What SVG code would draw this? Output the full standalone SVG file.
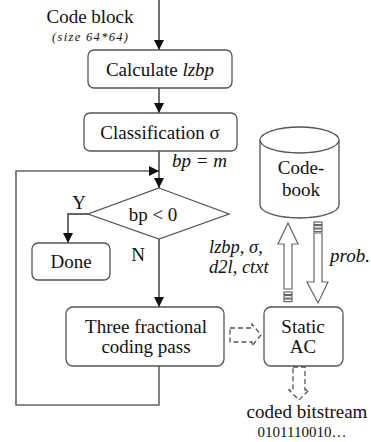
<svg xmlns="http://www.w3.org/2000/svg" width="371" height="442" viewBox="0 0 371 442">
  <style>
    .box { fill: #fff; stroke: #555; stroke-width: 1.3; }
    .line { fill: none; stroke: #333; stroke-width: 1.4; }
    .loop { fill: none; stroke: #666; stroke-width: 1.6; }
    .block { fill: #fff; stroke: #666; stroke-width: 1.2; }
    .dash { fill: none; stroke: #555; stroke-width: 1.3; stroke-dasharray: 5 3; }
    text { font-family: 'Liberation Serif', 'Times New Roman', serif; font-size: 19px; fill: #111; }
    .c { text-anchor: middle; }
    .it { font-style: italic; }
  </style>
  <defs>
    <marker id="ah" viewBox="0 0 10 10" refX="10" refY="5" markerWidth="10" markerHeight="10" markerUnits="userSpaceOnUse" orient="auto">
      <path d="M0,0 L10,5 L0,10 Z" fill="#111"/>
    </marker>
  </defs>

  <!-- connectors -->
  <g id="connectors">
    <path class="line" d="M159,0 V50" marker-end="url(#ah)"/>
    <path class="line" d="M159,88 V113" marker-end="url(#ah)"/>
    <path class="line" d="M159,151 V188" marker-end="url(#ah)"/>
    <path class="line" d="M88,214 H68 V243" marker-end="url(#ah)"/>
    <path class="line" d="M159,239 V307" marker-end="url(#ah)"/>
    <path class="loop" d="M159,366 V405 H16 V171 H159" marker-end="url(#ah)"/>
    <!-- hollow block arrows between coder and codebook -->
    <polygon class="block" points="284,289 284,244 278,244 288,223 298,244 292,244 292,289"/>
    <rect class="block" x="284" y="292" width="8" height="2.6"/>
    <rect class="block" x="284" y="295.5" width="8" height="2.6"/>
    <rect class="block" x="284" y="299" width="8" height="2.6"/>
    <rect class="block" x="314" y="222" width="8" height="2.6"/>
    <rect class="block" x="314" y="225.5" width="8" height="2.6"/>
    <rect class="block" x="314" y="229" width="8" height="2.6"/>
    <polygon class="block" points="314,233 314,282 307,282 318,303 328,282 322,282 322,233"/>
    <!-- dashed block arrows -->
    <polygon class="dash" points="230,328 252,328 252,324 261,335 252,346 252,342 230,342"/>
    <polygon class="dash" points="293,367 305,367 305,390 309,390 299,400 289,390 293,390"/>
  </g>

  <g id="code-block-input">
    <text class="c" x="90" y="23">Code block</text>
    <text class="c it" x="90" y="41" style="font-size:12.5px" textLength="76" lengthAdjust="spacing">(size 64*64)</text>
  </g>

  <g id="calc-lzbp">
    <rect class="box" x="88" y="50" width="144" height="38" rx="6"/>
    <text class="c" x="160" y="76">Calculate <tspan class="it">lzbp</tspan></text>
  </g>

  <g id="classification">
    <rect class="box" x="84" y="113" width="153" height="38" rx="6"/>
    <text class="c" x="160" y="139">Classification σ</text>
  </g>

  <g id="bp-init">
    <text class="it" x="172" y="167">bp = m</text>
  </g>

  <g id="decision">
    <polygon class="box" points="159,188 229,214 159,239 88,214"/>
    <text class="c" x="153" y="221">bp &lt; 0</text>
    <text class="c" x="79" y="209">Y</text>
    <text class="c" x="138" y="261">N</text>
  </g>

  <g id="done">
    <rect class="box" x="32" y="243" width="78" height="37" rx="6"/>
    <text class="c" x="71" y="268">Done</text>
  </g>

  <g id="coding-pass">
    <rect class="box" x="66" y="307" width="158" height="59" rx="7"/>
    <text class="c" x="146" y="333">Three fractional</text>
    <text class="c" x="146" y="353">coding pass</text>
  </g>

  <g id="static-ac">
    <rect class="box" x="264" y="307" width="79" height="59" rx="7"/>
    <text class="c" x="303" y="333">Static</text>
    <text class="c" x="303" y="353">AC</text>
  </g>

  <g id="codebook">
    <path class="box" d="M260,140 V205 A39.5,13 0 0 0 339,205 V140"/>
    <ellipse class="box" cx="299.5" cy="140" rx="39.5" ry="13"/>
    <text class="c" x="301" y="174">Code-</text>
    <text class="c" x="301" y="196">book</text>
  </g>

  <g id="labels">
    <text class="it" x="209" y="253" style="font-size:18.5px">lzbp, σ,</text>
    <text class="it" x="209" y="273" style="font-size:18.5px">d2l, ctxt</text>
    <text class="it" x="330" y="262">prob.</text>
  </g>

  <g id="output">
    <text class="c" x="307" y="418">coded bitstream</text>
    <text class="c" x="302" y="437" style="font-size:15px">0101110010…</text>
  </g>
</svg>
